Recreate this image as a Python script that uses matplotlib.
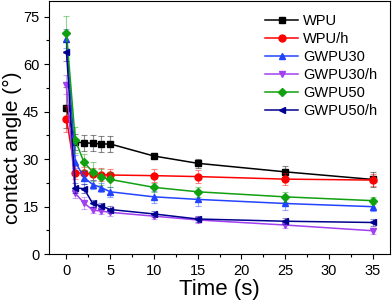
import matplotlib
matplotlib.use("Agg")
import matplotlib.pyplot as plt
from matplotlib.ticker import MultipleLocator

plt.rcParams['font.family'] = ['Liberation Sans', 'DejaVu Sans']

# time points (s)
t = [0, 1, 2, 3, 4, 5, 10, 15, 25, 35]

# contact angles (deg) and error bars
wpu = [46.2, 35.4, 35.2, 35.0, 34.8, 34.8, 31.0, 28.7, 26.0, 23.6]
wpu_err = [6.5, 2.5, 2.5, 2.5, 2.5, 2.5, 0.8, 1.5, 1.8, 2.5]
wpu_h = [42.7, 25.7, 25.5, 25.3, 25.1, 25.0, 24.8, 24.5, 23.7, 23.4]
wpu_h_err = [4.0, 2.0, 2.0, 2.0, 2.0, 2.0, 2.0, 2.0, 2.0, 2.0]
gwpu30 = [68.0, 29.2, 24.2, 22.0, 21.0, 19.7, 18.1, 17.3, 16.0, 15.0]
gwpu30_err = [3.0, 2.0, 2.0, 1.5, 1.5, 1.5, 1.8, 2.0, 2.0, 1.5]
gwpu30_h = [53.5, 19.2, 16.2, 13.9, 13.6, 13.2, 12.0, 10.8, 9.2, 7.4]
gwpu30_h_err = [3.0, 1.5, 1.8, 1.0, 1.0, 1.0, 1.0, 1.0, 1.0, 1.0]
gwpu50 = [69.8, 36.1, 29.0, 26.0, 24.3, 23.6, 21.1, 19.7, 18.1, 16.9]
gwpu50_err = [5.5, 4.0, 2.5, 3.0, 2.5, 2.5, 1.5, 1.5, 1.5, 1.2]
gwpu50_h = [64.0, 20.9, 20.7, 16.0, 15.2, 14.1, 12.7, 11.1, 10.4, 10.0]
gwpu50_h_err = [3.0, 1.5, 1.5, 1.0, 1.0, 1.0, 1.0, 1.0, 1.0, 1.0]

series = [
    ("WPU", wpu, wpu_err, "#000000", "s"),
    ("WPU/h", wpu_h, wpu_h_err, "#ff0000", "o"),
    ("GWPU30", gwpu30, gwpu30_err, "#2244ff", "^"),
    ("GWPU30/h", gwpu30_h, gwpu30_h_err, "#a040f0", "v"),
    ("GWPU50", gwpu50, gwpu50_err, "#10a010", "D"),
    ("GWPU50/h", gwpu50_h, gwpu50_h_err, "#000090", "<"),
]

fig = plt.figure(figsize=(3.92, 3.04), dpi=100)
ax = fig.add_axes([0.125, 0.164, 0.87, 0.833])

for name, y, err, col, mk in series:
    ms = 4.0 if mk == "D" else 5.0
    ax.errorbar(t, y, yerr=err, fmt="none", ecolor=col, alpha=0.45,
                elinewidth=0.8, capsize=2, capthick=0.8)
    ax.plot(t, y, color=col, marker=mk, markersize=ms, linewidth=1.1,
            label=name)

ax.set_xlim(-2, 37)
ax.set_ylim(0, 80)
ax.xaxis.set_major_locator(MultipleLocator(5))
ax.xaxis.set_minor_locator(MultipleLocator(2.5))
ax.yaxis.set_major_locator(MultipleLocator(15))
ax.yaxis.set_minor_locator(MultipleLocator(7.5))
ax.tick_params(which="major", direction="out", length=3.5, width=0.8,
               labelsize=10.5)
ax.tick_params(which="minor", direction="out", length=2, width=0.8)
ax.set_xticks([0, 5, 10, 15, 20, 25, 30, 35])

ax.set_xlabel("Time (s)", fontsize=16, labelpad=1)
ax.set_ylabel("contact angle (°)", fontsize=15, labelpad=2)
ax.yaxis.set_label_coords(-0.078, 0.42)

ax.legend(loc="upper right", frameon=False, fontsize=10.5,
          handlelength=2.3, labelspacing=0.28, handletextpad=0.3,
          borderaxespad=0.5, bbox_to_anchor=(1.0, 1.0))

fig.savefig("out.png", dpi=100)
